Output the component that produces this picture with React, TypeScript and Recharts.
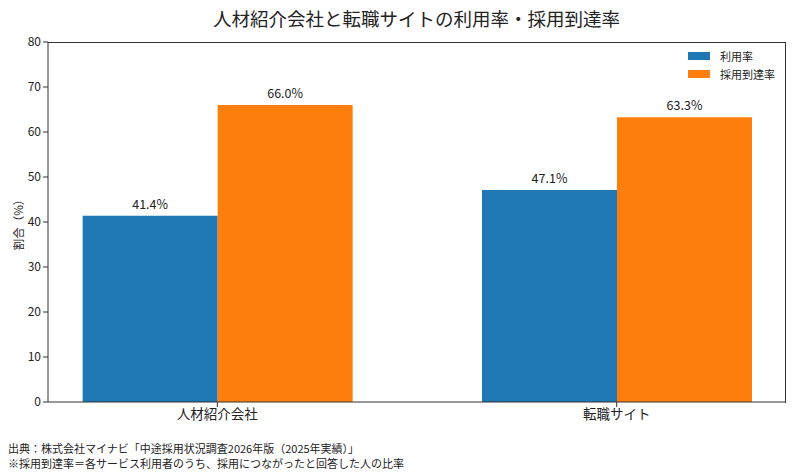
import React from "react";
import { BarChart, Bar, XAxis, YAxis, LabelList } from "recharts";

const categories = ["人材紹介会社", "転職サイト"];
const usageRate = [41.4, 47.1];
const reachRate = [66.0, 63.3];
const yTicks = [0, 10, 20, 30, 40, 50, 60, 70, 80];

const seriesNames = { usage: "利用率", reach: "採用到達率" };
const colors = { usage: "#1f77b4", reach: "#ff7f0e" };

const data = categories.map((name, i) => ({
  x: i,
  name,
  usage: usageRate[i],
  reach: reachRate[i],
}));

const FONT = "'Noto Sans CJK JP', 'Noto Sans', sans-serif";
const xDomain = [-0.424, 1.424];

const LegendBox = () => (
  <div style={{ position: "absolute", top: 47, left: 688, fontFamily: FONT, fontSize: 11, color: "#222" }}>
    {(["usage", "reach"] as const).map((k) => (
      <div key={k} style={{ display: "flex", alignItems: "center", height: 18 }}>
        <span style={{ display: "inline-block", width: 22, height: 8, background: colors[k], marginRight: 10 }} />
        <span>{seriesNames[k]}</span>
      </div>
    ))}
  </div>
);

export default function App() {
  return (
    <div style={{ position: "relative", width: 792, height: 475, background: "#fff", fontFamily: FONT }}>
      <style>{`body{margin:0}`}</style>
      <div
        style={{
          position: "absolute",
          top: 5,
          left: 48,
          width: 737,
          textAlign: "center",
          fontSize: 18.5,
          lineHeight: "26px",
          color: "#222",
        }}
      >
        人材紹介会社と転職サイトの利用率・採用到達率
      </div>
      <BarChart
        width={792}
        height={475}
        data={data}
        margin={{ top: 42, right: 6, bottom: 43, left: 8 }}
        barGap={0}
      >
        <XAxis
          type="number"
          dataKey="x"
          domain={xDomain}
          ticks={[0, 1]}
          tickFormatter={(v: number) => categories[v] ?? ""}
          stroke="#333"
          tickSize={5}
          height={30}
          tick={{ fill: "#222", fontSize: 13.5, fontFamily: FONT }}
          allowDataOverflow
        />
        <YAxis
          domain={[0, 80]}
          ticks={yTicks}
          width={40}
          stroke="#333"
          tickSize={5}
          tick={{ fill: "#222", fontSize: 12, fontFamily: FONT }}
          label={{
            value: "割合（%）",
            angle: -90,
            position: "insideLeft",
            offset: 11,
            style: { fill: "#222", fontSize: 11.5, fontFamily: FONT, textAnchor: "middle" },
          }}
        />
        <Bar dataKey="usage" name={seriesNames.usage} fill={colors.usage} barSize={135} isAnimationActive={false}>
          <LabelList
            dataKey="usage"
            position="top"
            offset={7}
            formatter={(v: number) => `${v.toFixed(1)}%`}
            style={{ fill: "#222", fontSize: 12.5, fontFamily: FONT }}
          />
        </Bar>
        <Bar dataKey="reach" name={seriesNames.reach} fill={colors.reach} barSize={135} isAnimationActive={false}>
          <LabelList
            dataKey="reach"
            position="top"
            offset={7}
            formatter={(v: number) => `${v.toFixed(1)}%`}
            style={{ fill: "#222", fontSize: 12.5, fontFamily: FONT }}
          />
        </Bar>
      </BarChart>
      {/* plot frame (matplotlib-style spines) */}
      <div
        style={{
          position: "absolute",
          left: 48,
          top: 42,
          width: 738,
          height: 361,
          boxSizing: "border-box",
          borderTop: "1.5px solid #333",
          borderRight: "1px solid #333",
          pointerEvents: "none",
          zIndex: 5,
        }}
      />
      <LegendBox />
      <div style={{ position: "absolute", left: 8, top: 441, fontSize: 11, lineHeight: "15px", color: "#222" }}>
        <div>出典：株式会社マイナビ「中途採用状況調査2026年版（2025年実績）」</div>
        <div>※採用到達率＝各サービス利用者のうち、採用につながったと回答した人の比率</div>
      </div>
    </div>
  );
}
